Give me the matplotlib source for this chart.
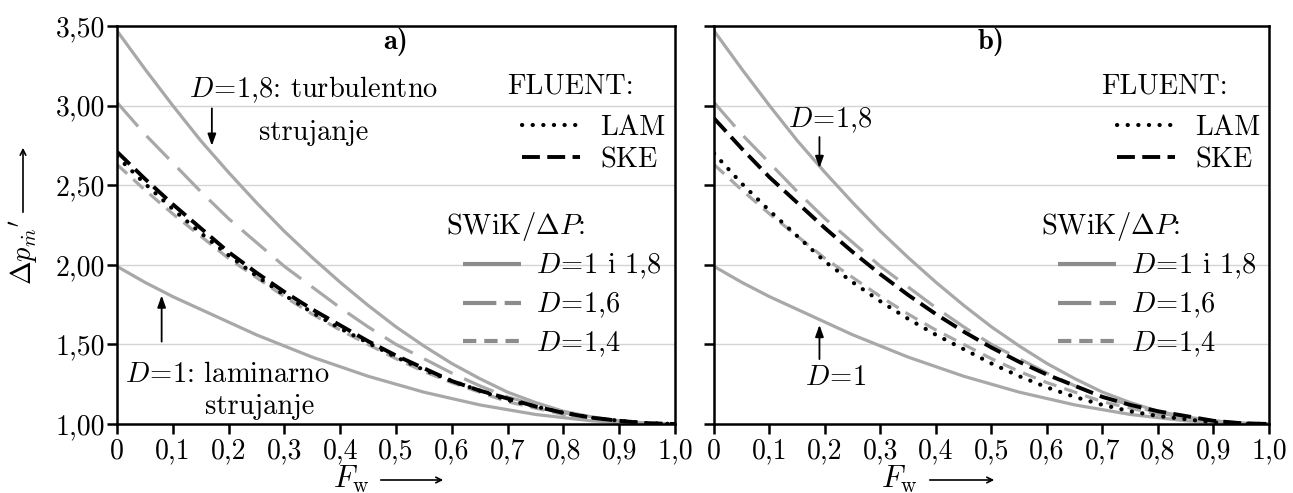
import numpy as np
import matplotlib
matplotlib.use("Agg")
import matplotlib.pyplot as plt
from matplotlib.lines import Line2D

plt.rcParams['font.family'] = 'cmr10'
plt.rcParams['mathtext.fontset'] = 'cm'
plt.rcParams['axes.unicode_minus'] = False

# ---------------- data ----------------
F = [0.0, 0.05, 0.1, 0.15, 0.2, 0.25, 0.3, 0.35, 0.4, 0.45, 0.5,
     0.55, 0.6, 0.65, 0.7, 0.75, 0.8, 0.85, 0.9, 0.95, 1.0]

# SWiK/dP curves (same in both panels)
d18 = [3.47, 3.23, 3.00, 2.78, 2.58, 2.39, 2.21, 2.045, 1.89, 1.745, 1.61,
       1.49, 1.38, 1.285, 1.20, 1.135, 1.08, 1.045, 1.02, 1.005, 1.00]
d16 = [3.02, 2.82, 2.64, 2.46, 2.29, 2.14, 1.99, 1.86, 1.73, 1.61, 1.50,
       1.41, 1.32, 1.24, 1.17, 1.12, 1.07, 1.04, 1.02, 1.005, 1.00]
d14 = [2.63, 2.47, 2.32, 2.18, 2.04, 1.92, 1.80, 1.69, 1.59, 1.50, 1.41,
       1.33, 1.26, 1.20, 1.14, 1.10, 1.06, 1.03, 1.01, 1.003, 1.00]
d10 = [1.99, 1.89, 1.80, 1.72, 1.64, 1.56, 1.49, 1.42, 1.36, 1.30, 1.25,
       1.20, 1.16, 1.12, 1.09, 1.06, 1.04, 1.02, 1.01, 1.003, 1.00]

# FLUENT, panel a)
lam_a = [2.68, 2.51, 2.35, 2.20, 2.06, 1.93, 1.81, 1.70, 1.60, 1.51, 1.42,
         1.34, 1.27, 1.21, 1.15, 1.11, 1.07, 1.04, 1.02, 1.005, 1.00]
ske_a = [2.71, 2.54, 2.38, 2.23, 2.08, 1.95, 1.83, 1.72, 1.62, 1.52, 1.43,
         1.35, 1.27, 1.21, 1.16, 1.11, 1.07, 1.04, 1.02, 1.005, 1.00]
# FLUENT, panel b)
lam_b = [2.70, 2.51, 2.34, 2.18, 2.02, 1.89, 1.77, 1.66, 1.56, 1.47, 1.38,
         1.30, 1.23, 1.17, 1.12, 1.08, 1.05, 1.03, 1.01, 1.003, 1.00]
ske_b = [2.92, 2.73, 2.55, 2.39, 2.23, 2.08, 1.94, 1.81, 1.69, 1.58, 1.48,
         1.39, 1.31, 1.24, 1.17, 1.12, 1.08, 1.05, 1.02, 1.005, 1.00]

xticks = [0, 0.1, 0.2, 0.3, 0.4, 0.5, 0.6, 0.7, 0.8, 0.9, 1.0]
xticklabels = ['0', '0,1', '0,2', '0,3', '0,4', '0,5', '0,6', '0,7', '0,8', '0,9', '1,0']
yticks = [1.0, 1.5, 2.0, 2.5, 3.0, 3.5]
yticklabels = ['1,00', '1,50', '2,00', '2,50', '3,00', '3,50']

# ---------------- styles ----------------
gray = '#a8a8a8'
leg_gray = '#8c8c8c'
st_solid = dict(color=gray, lw=2.3, solid_capstyle='butt')
st_d16 = dict(color=gray, lw=2.3, linestyle=(0, (10, 4)))
st_d14 = dict(color=gray, lw=2.3, linestyle=(0, (4.3, 2.6)))
st_lam = dict(color='black', lw=3.0, linestyle=(0, (0.05, 2.5)), dash_capstyle='round')
st_ske = dict(color='black', lw=2.8, linestyle=(0, (4.6, 1.9)))

fs_tick = 20
fs_txt = 20.5

fig = plt.figure(figsize=(12.93, 4.93), dpi=100)
ax1 = fig.add_axes([117 / 1293, 69 / 493, 558 / 1293, 398 / 493])
ax2 = fig.add_axes([714 / 1293, 69 / 493, 555 / 1293, 398 / 493])


def setup(ax, ylabels):
    ax.set_xlim(0, 1)
    ax.set_ylim(1, 3.5)
    ax.set_xticks(xticks)
    ax.set_xticklabels(xticklabels, fontsize=fs_tick)
    ax.set_yticks(yticks)
    if ylabels:
        ax.set_yticklabels(yticklabels, fontsize=fs_tick)
    else:
        ax.set_yticklabels([])
    ax.tick_params(direction='out', length=7, width=1.8, pad=3)
    ax.tick_params(axis='y', pad=1.5)
    for s in ax.spines.values():
        s.set_linewidth(1.8)
    ax.grid(axis='y', color='#d4d4d4', lw=1.0)
    ax.set_axisbelow(True)


def curves(ax, lam, ske):
    ax.plot(F, d10, **st_solid)
    ax.plot(F, d18, **st_solid)
    ax.plot(F, d16, **st_d16)
    ax.plot(F, d14, **st_d14)
    ax.plot(F, ske, **st_ske)
    ax.plot(F, lam, **st_lam)


def legends(ax):
    ax.text(0.812, 3.12, 'FLUENT:', fontsize=fs_txt, ha='center', va='center')
    h1 = [Line2D([], [], **st_lam), Line2D([], [], **st_ske)]
    lg1 = ax.legend(h1, ['LAM', 'SKE'], loc='upper left', bbox_to_anchor=(0.726, 0.777),
                    frameon=False, fontsize=fs_txt, handlelength=2.05, handletextpad=0.7,
                    labelspacing=0.2, borderpad=0, borderaxespad=0)
    ax.add_artist(lg1)
    ax.text(0.714, 2.24, r'SWiK/$\Delta P$:', fontsize=fs_txt, ha='center', va='center')
    h2 = [Line2D([], [], color=leg_gray, lw=3, solid_capstyle='butt'),
          Line2D([], [], color=leg_gray, lw=3, linestyle=(0, (8, 2))),
          Line2D([], [], color=leg_gray, lw=3, linestyle=(0, (3.2, 1.9)))]
    ax.legend(h2, [r'$D\!=\!1$ i 1,8', r'$D\!=\!1{,}6$', r'$D\!=\!1{,}4$'],
              loc='upper left', bbox_to_anchor=(0.62, 0.432),
              frameon=False, fontsize=fs_txt, handlelength=2.05, handletextpad=0.5,
              labelspacing=0.33, borderpad=0, borderaxespad=0)


arw = dict(arrowstyle='-|>,head_length=0.7,head_width=0.25', color='black', lw=1.3)

# ---------------- panel a ----------------
setup(ax1, True)
curves(ax1, lam_a, ske_a)
legends(ax1)
ax1.text(0.5, 3.40, 'a)', family='cmb10', fontsize=fs_txt, ha='center', va='center')
ax1.text(0.352, 3.10, r'$D\!=\!1{,}8$: turbulentno', fontsize=fs_txt, ha='center', va='center')
ax1.text(0.352, 2.83, 'strujanje', fontsize=fs_txt, ha='center', va='center')
ax1.annotate('', xy=(0.17, 2.73), xytext=(0.17, 3.0), arrowprops=arw)
ax1.text(0.198, 1.31, r'$D\!=\!1$: laminarno', fontsize=fs_txt, ha='center', va='center')
ax1.text(0.256, 1.11, 'strujanje', fontsize=fs_txt, ha='center', va='center')
ax1.annotate('', xy=(0.08, 1.825), xytext=(0.08, 1.50), arrowprops=arw)

# ---------------- panel b ----------------
setup(ax2, False)
curves(ax2, lam_b, ske_b)
legends(ax2)
ax2.text(0.5, 3.40, 'b)', family='cmb10', fontsize=fs_txt, ha='center', va='center')
ax2.text(0.21, 2.91, r'$D\!=\!1{,}8$', fontsize=fs_txt, ha='center', va='center')
ax2.annotate('', xy=(0.19, 2.59), xytext=(0.19, 2.82), arrowprops=arw)
ax2.text(0.22, 1.29, r'$D\!=\!1$', fontsize=fs_txt, ha='center', va='center')
ax2.annotate('', xy=(0.19, 1.64), xytext=(0.19, 1.39), arrowprops=arw)

# ---------------- axis labels with arrows ----------------
fig.text(24 / 1293, 0.489, r"$\Delta p_{\dot{m}}{}^{\prime}$", fontsize=fs_txt, rotation=90,
         ha='center', va='center')
fig_arw = dict(arrowstyle='->', color='black', lw=1.2)
ax1.annotate('', xy=(23 / 1293, (493 - 145) / 493), xytext=(23 / 1293, (493 - 215) / 493),
             xycoords='figure fraction', textcoords='figure fraction', arrowprops=fig_arw)
for xc, x0, x1 in [(351, 378, 446), (899, 927, 997)]:
    fig.text(xc / 1293, 14 / 493, r'$F_{\mathrm{w}}$', fontsize=22, ha='center', va='center')
    ax1.annotate('', xy=(x1 / 1293, 13 / 493), xytext=(x0 / 1293, 13 / 493),
                 xycoords='figure fraction', textcoords='figure fraction', arrowprops=fig_arw)

fig.savefig('out.png', dpi=100)
